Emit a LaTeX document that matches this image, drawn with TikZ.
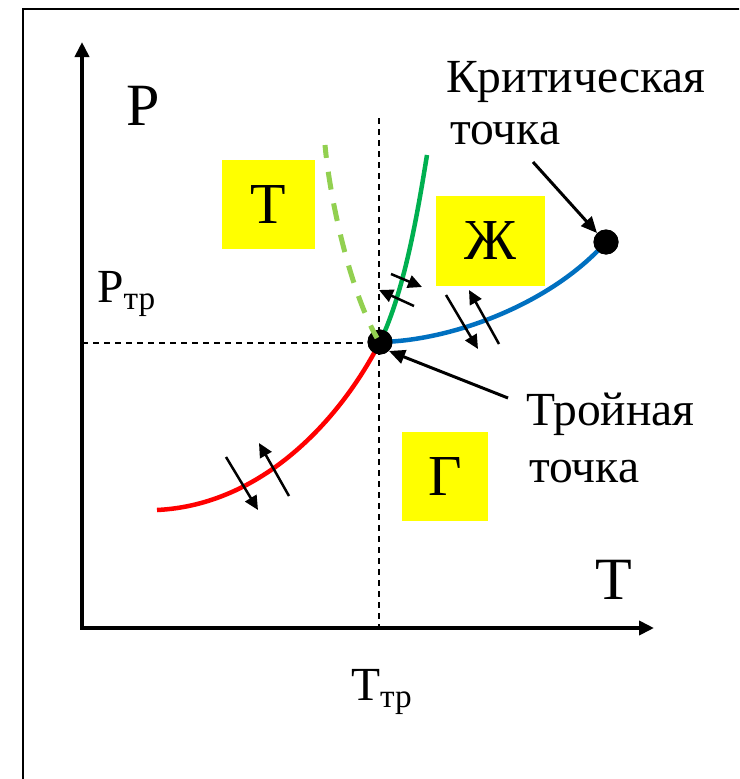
\documentclass[tikz,border=0pt]{standalone}
\usepackage{fontspec}
\setmainfont{Liberation Serif}
\usetikzlibrary{arrows.meta}
\definecolor{cred}{HTML}{FF0000}
\definecolor{cgreen}{HTML}{00B050}
\definecolor{clgreen}{HTML}{92D050}
\definecolor{cblue}{HTML}{0070C0}
\definecolor{cyel}{HTML}{FFFF00}
\tikzset{
  axis/.style={line width=4pt,-{Triangle[length=15pt,width=14pt]}},
  guide/.style={line width=1.4pt,dash pattern=on 6pt off 5pt},
  curve/.style={line width=4.5pt},
  phasearr/.style={line width=2.5pt,-{Triangle[length=14pt,width=13pt]}},
  pointer/.style={line width=3pt,-{Triangle[length=16pt,width=14pt]}},
  region/.style={fill=cyel,minimum width=#1,inner sep=0pt,font=\fontsize{58}{60}\selectfont},
  dot/.style={circle,fill=black,minimum size=25pt,inner sep=0pt},
  lbl/.style={font=\fontsize{47.5}{50}\selectfont,inner sep=0pt},
  big/.style={font=\fontsize{60}{62}\selectfont,inner sep=0pt}
}
\begin{document}
\begin{tikzpicture}[x=1pt,y=-1pt]
\useasboundingbox (0,0) rectangle (739,779);
\clip (0,0) rectangle (739,779);
% frame
\draw[line width=2pt] (23,800) -- (23,9) -- (760,9);
% coordinates
\coordinate (O) at (82,628);
\coordinate (Ytop) at (82,42);
\coordinate (Xend) at (654,628);
\coordinate (Vtop) at (379,118);
\coordinate (Vbot) at (379,628);
\coordinate (Hleft) at (82,343);
% guides
\draw[guide] (Vtop) -- (Vbot);
\draw[guide] (Hleft) -- (379,343);
% axes
\draw[axis] (O) -- (Ytop);
\draw[axis] ([xshift=-2pt]O) -- (Xend);
% regions
\node[region=93pt,minimum height=89pt] (rT) at (268.5,204.5) {Т};
\node[region=109pt,minimum height=90pt] (rZh) at (490.5,241) {Ж};
\node[region=86pt,minimum height=89pt] (rG) at (445,476.5) {Г};
% points
\node[dot] (tp) at (380,342) {};
\node[dot] (cp) at (606,242) {};
\coordinate (redstart) at (157,510);
\coordinate (greenend) at (427,155);
\coordinate (lgend) at (325,145);
% curves
\draw[curve,cred] (redstart) .. controls (262,505) and (340,420) .. (tp.center);
\draw[curve,cgreen] (tp.center) .. controls (405,290) and (418,210) .. (greenend);
\draw[curve,cblue] (tp.center) .. controls (450,341) and (550,305) .. (cp.center);
\node[dot] at (tp) {};
\node[dot] at (cp) {};
\draw[line width=5pt,clgreen,dash pattern=on 18pt off 14pt,dash phase=4pt] (377,338) .. controls (350,290) and (330,200) .. (lgend);
% phase arrows
\coordinate (ra1) at (226,457); \coordinate (ra2) at (258,510);
\coordinate (rb1) at (289,496); \coordinate (rb2) at (259,443);
\draw[phasearr] (ra1) -- (ra2);
\draw[phasearr] (rb1) -- (rb2);
\coordinate (ga1) at (391,274); \coordinate (ga2) at (422,287);
\coordinate (gb1) at (414,306); \coordinate (gb2) at (379,290);
\draw[phasearr] (ga1) -- (ga2);
\draw[phasearr] (gb1) -- (gb2);
\coordinate (ba1) at (446,295); \coordinate (ba2) at (478,349);
\coordinate (bb1) at (499,344); \coordinate (bb2) at (469,290);
\draw[phasearr] (ba1) -- (ba2);
\draw[phasearr] (bb1) -- (bb2);
% labels
\node[big] (P) at (143,106) {P};
\node[big] (Tax) at (614,580) {T};
\node[lbl,anchor=base west] (Ptr) at (97,302) {P\textsubscript{тр}};
\node[lbl,anchor=base west] (Ttr) at (351,700) {T\textsubscript{тр}};
\node[lbl,anchor=base west] (krit1) at (446,92) {Критическая};
\node[lbl,anchor=base west] (krit2) at (450,144) {точка};
\node[lbl,anchor=base west] (trip1) at (526,425) {Тройная};
\node[lbl,anchor=base west] (trip2) at (529,482) {точка};
% pointers
\coordinate (kp) at (533,162);
\coordinate (tq) at (508,398);
\draw[pointer] (kp) -- (cp.north west);
\draw[pointer] (tq) -- (tp.south east);
\end{tikzpicture}
\end{document}
